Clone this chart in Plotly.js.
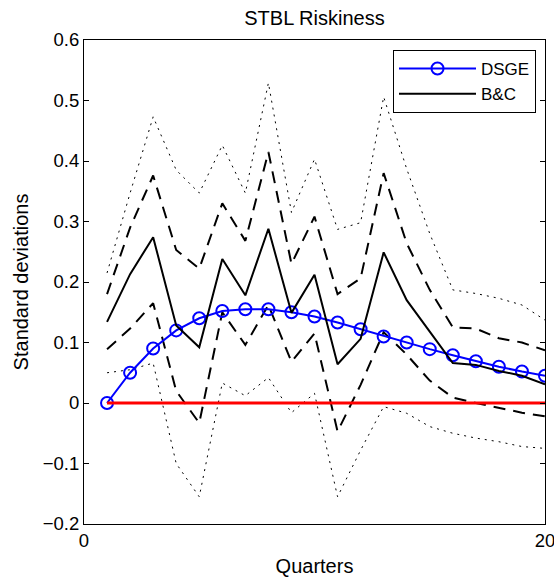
<!DOCTYPE html>
<html>
<head>
<meta charset="utf-8">
<script src="https://cdn.plot.ly/plotly-3.0.1.min.js"></script>
<style>
html,body{margin:0;padding:0;background:#fff;}
#chart{width:554px;height:577px;}
</style>
</head>
<body>
<div id="chart"></div>
<script>
var quarters = [1,2,3,4,5,6,7,8,9,10,11,12,13,14,15,16,17,18,19,20];
var dsge = [0, 0.05, 0.09, 0.12, 0.14, 0.152, 0.155, 0.155, 0.15, 0.143, 0.133, 0.122, 0.11, 0.1, 0.089, 0.079, 0.069, 0.06, 0.052, 0.045];
var bc = [0.134, 0.213, 0.274, 0.128, 0.092, 0.238, 0.178, 0.288, 0.149, 0.212, 0.064, 0.106, 0.249, 0.17, 0.118, 0.066, 0.063, 0.053, 0.045, 0.031];
var bcUpperDash = [0.18, 0.29, 0.376, 0.253, 0.222, 0.33, 0.268, 0.415, 0.23, 0.308, 0.18, 0.206, 0.38, 0.264, 0.187, 0.125, 0.123, 0.107, 0.1, 0.087];
var bcLowerDash = [0.089, 0.123, 0.165, 0.02, -0.033, 0.15, 0.096, 0.162, 0.068, 0.115, -0.047, 0.03, 0.117, 0.08, 0.037, 0.009, 0.0, -0.008, -0.016, -0.022];
var bcUpperDot = [0.215, 0.347, 0.473, 0.385, 0.347, 0.426, 0.347, 0.529, 0.315, 0.403, 0.287, 0.298, 0.506, 0.387, 0.28, 0.187, 0.181, 0.173, 0.162, 0.137];
var bcLowerDot = [0.05, 0.055, 0.066, -0.1, -0.155, 0.033, 0.012, 0.042, -0.016, 0.016, -0.155, -0.078, -0.006, -0.017, -0.039, -0.05, -0.058, -0.064, -0.072, -0.075];
var zeroLine = [0,0,0,0,0,0,0,0,0,0,0,0,0,0,0,0,0,0,0,0];
var yTickVals = [-0.2,-0.1,0,0.1,0.2,0.3,0.4,0.5,0.6];
var yTickText = ['\u22120.2','\u22120.1','0','0.1','0.2','0.3','0.4','0.5','0.6'];
var xTickVals = [0,20];
var xTickText = ['0','20'];

var FONT = 'Liberation Sans, Arial, Helvetica, sans-serif';
var DOT = '2px,5px';
var DASH = '12px,8px';

var traces = [
  {x: quarters, y: bcUpperDot, mode:'lines', line:{color:'#000', width:1, dash:DOT}, showlegend:false, hoverinfo:'skip'},
  {x: quarters, y: bcLowerDot, mode:'lines', line:{color:'#000', width:1, dash:DOT}, showlegend:false, hoverinfo:'skip'},
  {x: quarters, y: bcUpperDash, mode:'lines', line:{color:'#000', width:2, dash:DASH}, showlegend:false, hoverinfo:'skip'},
  {x: quarters, y: bcLowerDash, mode:'lines', line:{color:'#000', width:2, dash:DASH}, showlegend:false, hoverinfo:'skip'},
  {x: quarters, y: dsge, name:'DSGE', mode:'lines+markers', line:{color:'#0000ff', width:2},
   marker:{symbol:'circle-open', size:12, color:'#0000ff', line:{width:2, color:'#0000ff'}}},
  {x: quarters, y: bc, name:'B&C', mode:'lines', line:{color:'#000', width:2}},
  {x: quarters, y: zeroLine, mode:'lines', line:{color:'#ff0000', width:3}, showlegend:false, hoverinfo:'skip'}
];

var layout = {
  width:554, height:577,
  margin:{l:84, r:9, t:40, b:53},
  paper_bgcolor:'#fff', plot_bgcolor:'#fff',
  font:{family:FONT, size:18, color:'#000'},
  title:{text:'STBL Riskiness', font:{family:FONT, size:20, color:'#000'}, xref:'paper', x:0.5, xanchor:'center', yref:'container', y:1-18/577, yanchor:'middle'},
  xaxis:{range:[0,20], tickvals:xTickVals, ticktext:xTickText, ticks:'inside', ticklen:5, tickcolor:'#000',
    showline:true, linecolor:'#000', linewidth:1, mirror:'ticks', showgrid:false, zeroline:false,
    ticklabeloverflow:'allow',
    tickfont:{family:FONT, size:18.5, color:'#000'},
    title:{text:'Quarters', font:{family:FONT, size:20, color:'#000'}, standoff:9}},
  yaxis:{range:[-0.2,0.6], tickvals:yTickVals, ticktext:yTickText,
    ticks:'inside', ticklen:5, tickcolor:'#000',
    showline:true, linecolor:'#000', linewidth:1, mirror:'ticks', showgrid:false, zeroline:false,
    tickfont:{family:FONT, size:18.5, color:'#000'},
    title:{text:'Standard deviations', font:{family:FONT, size:20, color:'#000'}, standoff:8}},
  legend:{x:(536-84)/461, xanchor:'right', y:1-(50-40)/484, yanchor:'top', bgcolor:'#fff', bordercolor:'#000', borderwidth:1,
    font:{family:FONT, size:17, color:'#000'}, tracegroupgap:0, itemwidth:77},
  showlegend:true
};

Plotly.newPlot('chart', traces, layout, {displayModeBar:false, staticPlot:true});
</script>
</body>
</html>
